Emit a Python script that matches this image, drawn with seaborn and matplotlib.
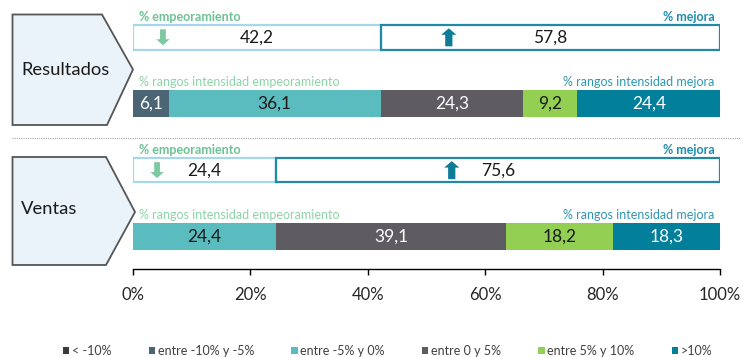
import matplotlib.pyplot as plt
import numpy as np
import seaborn as sns
from matplotlib.lines import Line2D
from matplotlib.patches import Patch, Polygon
from matplotlib.path import Path
from matplotlib.ticker import FuncFormatter

# --- Datos ---
grupos = ['Resultados', 'Ventas']
pct_empeoramiento = [42.2, 24.4]
pct_mejora = [57.8, 75.6]
rangos = ['< -10%', 'entre -10% y -5%', 'entre -5% y 0%', 'entre 0 y 5%', 'entre 5% y 10%', '>10%']
rango_resultados = [0.0, 6.1, 36.1, 24.3, 9.2, 24.4]
rango_ventas = [0.0, 0.0, 24.4, 39.1, 18.2, 18.3]
ticks_x = [0, 20, 40, 60, 80, 100]

colores_rango = ['#3b3b3b', '#4b6575', '#5bbcbf', '#5e5c61', '#92cf52', '#017f9b']
texto_rango = ['white', 'white', '#1a1a1a', 'white', '#1a1a1a', 'white']

sns.set_theme(style='white')
plt.rcParams['font.family'] = ['Lato', 'DejaVu Sans']

W, H = 743, 357


def fig_xy(x, y):
    return (x / W, 1 - y / H)


def fmt(v):
    return f'{v:.1f}'.replace('.', ',')


fig = plt.figure(figsize=(W / 100, H / 100), dpi=100)
ax = fig.add_axes([133 / W, 1 - 269 / H, 587 / W, 269 / H])
ax.set_facecolor('none')

filas = ['Resultados', 'Resultados int', 'Ventas', 'Ventas int']
fila_box = [filas[0], filas[2]]
fila_int = [filas[1], filas[3]]
pos_box = [filas.index(f) for f in fila_box]
pos_int = [filas.index(f) for f in fila_int]

# --- cajas % empeoramiento / % mejora ---
sns.barplot(x=pct_empeoramiento, y=fila_box, order=filas, orient='y', fill=False,
            color='#a6d7ea', saturation=1, width=0.37, linewidth=1.6, errorbar=None, ax=ax)
sns.barplot(x=pct_mejora, y=fila_box, order=filas, orient='y', fill=False,
            color='#2089aa', saturation=1, width=0.37, linewidth=1.6, errorbar=None,
            left=pct_empeoramiento, ax=ax)

for j in range(len(grupos)):
    ax.text(pct_empeoramiento[j] / 2, pos_box[j], fmt(pct_empeoramiento[j]),
            ha='center', va='center', fontsize=12.5, color='#1a1a1a')
    ax.text(pct_empeoramiento[j] + pct_mejora[j] / 2, pos_box[j], fmt(pct_mejora[j]),
            ha='center', va='center', fontsize=12.5, color='#1a1a1a')
    ax.text(1.0, pos_box[j] - 0.215, '% empeoramiento', ha='left', va='bottom',
            fontsize=9, fontweight='bold', color='#6cc294')
    ax.text(99.1, pos_box[j] - 0.215, '% mejora', ha='right', va='bottom',
            fontsize=9, fontweight='bold', color='#1f8db0')
    ax.text(1.0, pos_int[j] - 0.235, '% rangos intensidad empeoramiento', ha='left',
            va='bottom', fontsize=9, color='#8dd3a9')
    ax.text(99.1, pos_int[j] - 0.235, '% rangos intensidad mejora', ha='right',
            va='bottom', fontsize=9, color='#2f96b3')

# --- barras apiladas por rangos de intensidad ---
valores = np.array([rango_resultados, rango_ventas])
inicio = np.zeros(len(grupos))
for i, rango in enumerate(rangos):
    ancho = valores[:, i]
    sns.barplot(x=ancho, y=fila_int, order=filas, orient='y', color=colores_rango[i],
                saturation=1, width=0.41, linewidth=0, errorbar=None,
                left=inicio.copy(), ax=ax)
    for j in range(len(grupos)):
        if ancho[j] > 0:
            ax.text(inicio[j] + ancho[j] / 2, pos_int[j], fmt(ancho[j]), ha='center',
                    va='center', fontsize=12.5, color=texto_rango[i])
    inicio += ancho

# --- flechas ---
flecha_arriba = Path([(-0.2, -0.5), (0.2, -0.5), (0.2, 0.14), (0.42, 0.14), (0, 0.5),
                      (-0.42, 0.14), (-0.2, 0.14), (-0.2, -0.5)], closed=True)
flecha_abajo = Path([(-0.18, 0.5), (0.18, 0.5), (0.18, -0.12), (0.42, -0.12), (0, -0.5),
                     (-0.42, -0.12), (-0.18, -0.12), (-0.18, 0.5)], closed=True)
sns.scatterplot(x=[5.1, 4.1], y=pos_box, marker=flecha_abajo, s=132, color='#7dc9a0',
                edgecolor='none', linewidth=0, legend=False, zorder=5, ax=ax)
sns.scatterplot(x=[53.8, 54.3], y=pos_box, marker=flecha_arriba, s=169, color='#0d7c96',
                edgecolor='none', linewidth=0, legend=False, zorder=5, ax=ax)

# --- ejes ---
ax.set_xlim(0, 100)
ax.set_ylim(3.489, -0.562)
ax.set_yticks([])
ax.set_xlabel('')
ax.set_ylabel('')
ax.set_xticks(ticks_x)
ax.xaxis.set_major_formatter(FuncFormatter(lambda v, p: f'{v:.0f}%'))
sns.despine(ax=ax, left=True, top=True, right=True)
ax.spines['bottom'].set_color('black')
ax.spines['bottom'].set_linewidth(1)
ax.tick_params(axis='x', bottom=True, direction='out', length=4, width=1, color='black',
               pad=9, labelsize=12, labelcolor='#262626')

# --- pentágonos con el nombre del grupo ---
pentagonos = [
    [(12.5, 14.5), (102, 14.5), (133, 69.5), (107, 125), (12.5, 125)],
    [(12.5, 157), (106, 157), (135, 212), (106, 265), (12.5, 265)],
]
centro_texto = [70, 209]
for nombre, verts, yc in zip(grupos, pentagonos, centro_texto):
    fig.add_artist(Polygon([fig_xy(x, y) for x, y in verts], closed=True,
                           transform=fig.transFigure, facecolor='#eaf3fa',
                           edgecolor='#555555', linewidth=1.3))
    fig.text(*fig_xy(21, yc), nombre, ha='left', va='center', fontsize=13.2,
             color='#1a1a1a')

# separador punteado
fig.add_artist(Line2D([12 / W, 740 / W], [1 - 138 / H, 1 - 138 / H],
                      transform=fig.transFigure, color='#a6a6a6', linewidth=0.8,
                      linestyle=(0, (1, 1))))

# --- leyenda ---
handles = [Patch(facecolor=c, edgecolor='none') for c in colores_rango]
fig.legend(handles, rangos, loc='center left', bbox_to_anchor=fig_xy(63, 351), ncol=6,
           frameon=False, handlelength=0.5, handleheight=0.5, handletextpad=0.2,
           columnspacing=3.0, fontsize=9, borderpad=0, borderaxespad=0,
           labelcolor='#404040')

fig.savefig('out.png', dpi=100)
